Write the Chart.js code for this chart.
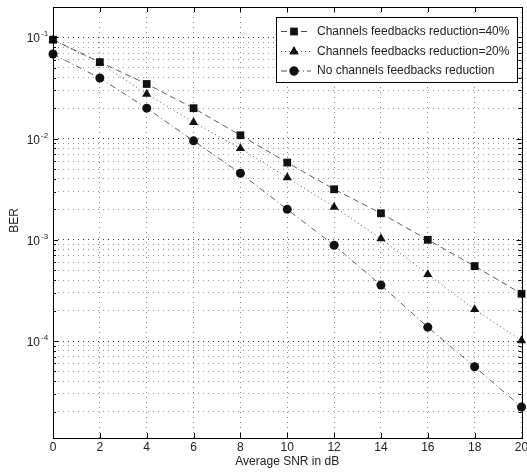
<!DOCTYPE html>
<html>
<head>
<meta charset="utf-8">
<script src="https://cdn.jsdelivr.net/npm/chart.js@4.4.0/dist/chart.umd.min.js"></script>
<style>
  body { margin: 0; background: #fff; }
</style>
</head>
<body>
<canvas id="ber-chart" width="527" height="475"></canvas>
<script>
// SNR (dB) の値
const snrValues = [0, 2, 4, 6, 8, 10, 12, 14, 16, 18, 20];

// BER の値
const berReduction40 = [0.095, 0.057, 0.0347, 0.0200, 0.0108, 0.0058, 0.00316, 0.00183, 0.00100, 0.00055, 0.000293];
const berReduction20 = [0.095, 0.056, 0.0276, 0.0145, 0.0080, 0.00413, 0.00211, 0.00103, 0.000455, 0.000205, 0.000101];
const berNoReduction = [0.0687, 0.0397, 0.0200, 0.00951, 0.00455, 0.00200, 0.000883, 0.000357, 0.000137, 0.0000556, 0.0000223];

const seriesLabels = [
  'Channels feedbacks reduction=40%',
  'Channels feedbacks reduction=20%',
  'No channels feedbacks reduction',
];

// 軸のラベル
const xTickLabels = [0, 2, 4, 6, 8, 10, 12, 14, 16, 18, 20];
const berDecades = [-5, -4, -3, -2, -1];
const yLabelDecades = [-4, -3, -2, -1];

const FONT = '"Liberation Sans", Arial, Helvetica, sans-serif';

const toPoints = (values) => values.map((v, i) => ({ x: snrValues[i], y: v }));

const seriesStyles = [
  { data: berReduction40, pointStyle: 'rect', radius: 5.5, dash: [6, 4], order: 2 },
  { data: berReduction20, pointStyle: 'triangle', radius: 5.3, dash: [1, 3], order: 1 },
  { data: berNoReduction, pointStyle: 'circle', radius: 4.5, dash: [6, 3, 1, 3], order: 0 },
];

const isDecade = (v) => Math.abs(Math.log10(v) - Math.round(Math.log10(v))) < 1e-6;

// 枠、目盛り、ラベル、凡例を描く
const matlabAxes = {
  id: 'matlabAxes',
  afterDraw(chart) {
    const { ctx, chartArea: a, scales } = chart;
    const xs = scales.x;
    const ys = scales.y;
    ctx.save();

    // 枠
    ctx.strokeStyle = '#000';
    ctx.lineWidth = 1;
    ctx.setLineDash([]);
    ctx.strokeRect(Math.round(a.left) + 0.5, Math.round(a.top) + 0.5,
      Math.round(a.right - a.left), Math.round(a.bottom - a.top));

    // 内向きの目盛り
    ctx.beginPath();
    xTickLabels.forEach((t) => {
      const px = Math.round(xs.getPixelForValue(t)) + 0.5;
      ctx.moveTo(px, a.bottom); ctx.lineTo(px, a.bottom - 5);
      ctx.moveTo(px, a.top); ctx.lineTo(px, a.top + 5);
    });
    ys.ticks.forEach((t) => {
      const py = Math.round(ys.getPixelForValue(t.value)) + 0.5;
      const len = isDecade(t.value) ? 5 : 3;
      ctx.moveTo(a.left, py); ctx.lineTo(a.left + len, py);
      ctx.moveTo(a.right, py); ctx.lineTo(a.right - len, py);
    });
    ctx.stroke();

    // x ラベル
    ctx.fillStyle = '#222';
    ctx.font = '12px ' + FONT;
    ctx.textAlign = 'center';
    ctx.textBaseline = 'alphabetic';
    xTickLabels.forEach((t) => {
      ctx.fillText(String(t), xs.getPixelForValue(t), 451);
    });
    ctx.fillText('Average SNR in dB', (a.left + a.right) / 2, 465);

    // y ラベル
    yLabelDecades.forEach((e) => {
      const py = ys.getPixelForValue(Math.pow(10, e));
      ctx.font = '12px ' + FONT;
      ctx.textAlign = 'right';
      ctx.fillText('10', 40, py + 5);
      ctx.font = '8px ' + FONT;
      ctx.textAlign = 'left';
      ctx.fillText('-' + Math.abs(e), 41, py - 1);
    });

    ctx.save();
    ctx.translate(18, (a.top + a.bottom) / 2 - 2);
    ctx.rotate(-Math.PI / 2);
    ctx.font = '12px ' + FONT;
    ctx.textAlign = 'center';
    ctx.fillText('BER', 0, 0);
    ctx.restore();

    // 凡例
    const box = { left: 276.5, top: 17.5, width: 241, height: 65 };
    ctx.fillStyle = '#fff';
    ctx.fillRect(box.left, box.top, box.width, box.height);
    ctx.strokeStyle = '#000';
    ctx.lineWidth = 1;
    ctx.strokeRect(box.left, box.top, box.width, box.height);
    const rowY = [31.5, 51.5, 71];
    chart.data.datasets.forEach((ds, i) => {
      const y = rowY[i];
      ctx.strokeStyle = '#222';
      ctx.lineWidth = 0.8;
      ctx.setLineDash(seriesStyles[i].dash);
      ctx.beginPath();
      ctx.moveTo(281, y); ctx.lineTo(311, y);
      ctx.stroke();
      ctx.setLineDash([]);
      Chart.helpers.drawPoint(ctx, {
        pointStyle: seriesStyles[i].pointStyle,
        radius: seriesStyles[i].radius,
        rotation: 0,
        borderWidth: 0,
      }, 294, y);
      ctx.fillStyle = '#111';
      ctx.fill();
      ctx.fillStyle = '#222';
      ctx.font = '12px ' + FONT;
      ctx.textAlign = 'left';
      ctx.textBaseline = 'middle';
      ctx.fillText(ds.label, 317, y);
    });
    ctx.restore();
  },
};

const datasets = seriesStyles.map((s, i) => ({
  label: seriesLabels[i],
  data: toPoints(s.data),
  borderColor: '#333',
  borderWidth: 0.8,
  borderDash: s.dash,
  pointStyle: s.pointStyle,
  pointRadius: s.radius,
  pointBackgroundColor: '#111',
  pointBorderColor: '#111',
  pointBorderWidth: 0,
  fill: false,
  tension: 0,
  clip: false,
  order: s.order,
}));

const ctx = document.getElementById('ber-chart').getContext('2d');
new Chart(ctx, {
  type: 'line',
  data: { datasets },
  options: {
    responsive: false,
    animation: false,
    devicePixelRatio: 1,
    layout: { padding: { left: 53, right: 5, top: 7, bottom: 37 } },
    plugins: { legend: { display: false }, tooltip: { enabled: false } },
    scales: {
      x: {
        type: 'linear',
        min: 0,
        max: 20,
        ticks: { display: false, stepSize: 2 },
        afterBuildTicks: (scale) => {
          scale.ticks = xTickLabels.map((v) => ({ value: v }));
        },
        grid: { color: '#8a8a8a', drawTicks: false, lineWidth: 1 },
        border: { display: false, dash: [1, 4] },
      },
      y: {
        type: 'logarithmic',
        min: 1.1e-5,
        max: 0.2,
        ticks: { display: false },
        afterBuildTicks: (scale) => {
          const ticks = [];
          berDecades.forEach((e) => {
            for (let m = 1; m <= 9; m++) {
              const v = m * Math.pow(10, e);
              if (v >= scale.min && v <= scale.max) ticks.push({ value: v });
            }
          });
          scale.ticks = ticks;
        },
        grid: {
          color: (c) => (c.tick && isDecade(c.tick.value) ? '#333' : '#9a9a9a'),
          drawTicks: false,
          lineWidth: 1,
        },
        border: { display: false, dash: [1, 4] },
      },
    },
  },
  plugins: [matlabAxes],
});
</script>
</body>
</html>
